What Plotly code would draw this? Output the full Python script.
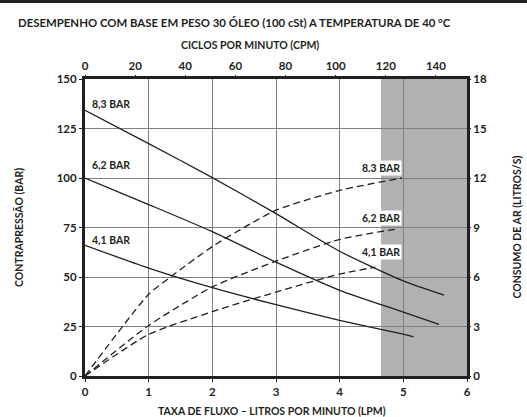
import plotly.graph_objects as go

# ---- data ----
flow_83 = [0, 1, 2, 3, 4, 5, 5.64]
bp_83 = [134.2, 117.4, 100.2, 82.0, 63.0, 48.0, 40.8]
flow_62 = [0, 1, 2, 3, 4, 5, 5.56]
bp_62 = [100.0, 86.6, 72.9, 57.5, 43.3, 32.3, 26.1]
flow_41 = [0, 1, 2, 3, 4, 5, 5.16]
bp_41 = [66.0, 54.5, 44.6, 36.0, 28.1, 21.1, 19.7]

air_flow_83 = [0, 1, 1.36, 2, 2.48, 3, 4, 4.98]
air_83 = [0, 4.95, 6.05, 7.85, 8.96, 10.05, 11.25, 12.0]
air_flow_62 = [0, 1, 2, 3, 4, 4.93]
air_62 = [0, 3.06, 5.4, 6.96, 8.28, 8.93]
air_flow_41 = [0, 1, 2, 3, 4, 4.56]
air_41 = [0, 2.52, 3.9, 5.09, 6.18, 6.6]

x_ticks = [0, 1, 2, 3, 4, 5, 6]
y_ticks = [0, 25, 50, 75, 100, 125, 150]
y2_ticks = [0, 3, 6, 9, 12, 15, 18]
cpm_ticks = [0, 20, 40, 60, 80, 100, 120, 140]
shade_start = 4.65

title_text = "DESEMPENHO COM BASE EM PESO 30 ÓLEO (100 cSt) A TEMPERATURA DE 40 °C"
top_axis_title = "CICLOS POR MINUTO (CPM)"
bottom_axis_title = "TAXA DE FLUXO – LITROS POR MINUTO (LPM)"
left_axis_title = "CONTRAPRESSÃO (BAR)"
right_axis_title = "CONSUMO DE AR (LITROS/S)"

DARK = "#231f20"
GRID = "#808080"
SHADE = "#b1b1b1"
FONT = "Lato"
W, H = 527, 417

fig = go.Figure()

for xs, ys in [(flow_83, bp_83), (flow_62, bp_62), (flow_41, bp_41)]:
    fig.add_trace(go.Scatter(x=xs, y=ys, mode="lines", line=dict(color=DARK, width=1.3, shape="spline", smoothing=0.6),
                             showlegend=False, hoverinfo="skip"))
for xs, ys in [(air_flow_83, air_83), (air_flow_62, air_62), (air_flow_41, air_41)]:
    fig.add_trace(go.Scatter(x=xs, y=ys, mode="lines", yaxis="y2",
                             line=dict(color=DARK, width=1.3, dash="7px,4px", shape="spline", smoothing=0.6),
                             showlegend=False, hoverinfo="skip"))
# invisible trace for the top axis
fig.add_trace(go.Scatter(x=[0, 150], y=[None, None], xaxis="x2", mode="lines", showlegend=False, hoverinfo="skip"))

fig.add_shape(type="rect", xref="x", yref="y", x0=shade_start, x1=6, y0=0, y1=150,
              fillcolor=SHADE, line=dict(width=0), layer="below")
# top decorative rule across the figure
fig.add_shape(type="rect", xref="paper", yref="paper", x0=0, x1=1, y0=1 - 3 / H, y1=1,
              fillcolor=DARK, line=dict(width=0), layer="above")

xdom = [85 / W, 467 / W]
ydom = [1 - 376 / H, 1 - 79 / H]
tickfont = dict(family=FONT, size=11.5, color=DARK, weight="bold")
fig.update_layout(
    width=W, height=H,
    margin=dict(l=0, r=0, t=0, b=0, autoexpand=False),
    paper_bgcolor="white", plot_bgcolor="white",
    font=dict(family=FONT, color=DARK),
    xaxis=dict(domain=xdom, range=[0, 6], tickvals=x_ticks, showgrid=True, gridcolor=GRID, gridwidth=1,
               showline=True, linecolor=DARK, linewidth=3, mirror=True, automargin=False,
               ticks="outside", ticklen=3, tickcolor=DARK, tickfont=tickfont, zeroline=False),
    xaxis2=dict(domain=xdom, range=[0, 152.4], tickvals=cpm_ticks, overlaying="x", side="top", anchor="y",
                showgrid=False, ticks="outside", ticklen=3, tickcolor=DARK, tickfont=tickfont,
                showline=False, zeroline=False, automargin=False),
    yaxis=dict(domain=ydom, range=[0, 150], tickvals=y_ticks, showgrid=True, gridcolor=GRID, gridwidth=1,
               showline=True, linecolor=DARK, linewidth=3, mirror=True, automargin=False,
               ticks="outside", ticklen=3, tickcolor=DARK, tickfont=tickfont, zeroline=False),
    yaxis2=dict(domain=ydom, range=[0, 18], tickvals=y2_ticks, overlaying="y", side="right", anchor="x",
                showgrid=False, ticks="outside", ticklen=3, tickcolor=DARK, tickfont=tickfont,
                zeroline=False, showline=False, automargin=False),
)

bold = dict(family=FONT, color=DARK, weight="bold")
ann = [
    dict(text=title_text, x=16 / W, y=1 - 22 / H, xanchor="left", yanchor="middle", font=dict(size=11.4, **bold)),
    dict(text=top_axis_title, x=250 / W, y=1 - 45.5 / H, xanchor="center", yanchor="middle", font=dict(size=10.5, **bold)),
    dict(text=bottom_axis_title, x=272 / W, y=1 - 411 / H, xanchor="center", yanchor="middle", font=dict(size=10.5, **bold)),
    dict(text=left_axis_title, x=18.5 / W, y=1 - 227.5 / H, xanchor="center", yanchor="middle", textangle=-90, font=dict(size=10.5, **bold)),
    dict(text=right_axis_title, x=516 / W, y=1 - 227.5 / H, xanchor="center", yanchor="middle", textangle=-90, font=dict(size=10.5, **bold)),
]
for a in ann:
    a.update(xref="paper", yref="paper", showarrow=False)
    fig.add_annotation(**a)

# curve labels
left_labels = [("8,3 BAR", 137.6), ("6,2 BAR", 106.4), ("4,1 BAR", 68.5)]
for t, yv in left_labels:
    fig.add_annotation(text=t, x=0.08, y=yv, xref="x", yref="y", xanchor="left", yanchor="middle",
                       showarrow=False, font=dict(size=10.5, **bold))
right_labels = [("8.3 BAR", 105.0), ("6,2 BAR", 79.6), ("4,1 BAR", 62.6)]
for t, yv in right_labels:
    fig.add_annotation(text=t, x=4.98, y=yv, xref="x", yref="y", xanchor="right", yanchor="middle",
                       showarrow=False, bgcolor="white", borderpad=1, font=dict(size=10.5, **bold))

fig.write_html("out.html", config={"displayModeBar": False},
               post_script="document.body.style.margin='0px';document.body.style.padding='0px';")
